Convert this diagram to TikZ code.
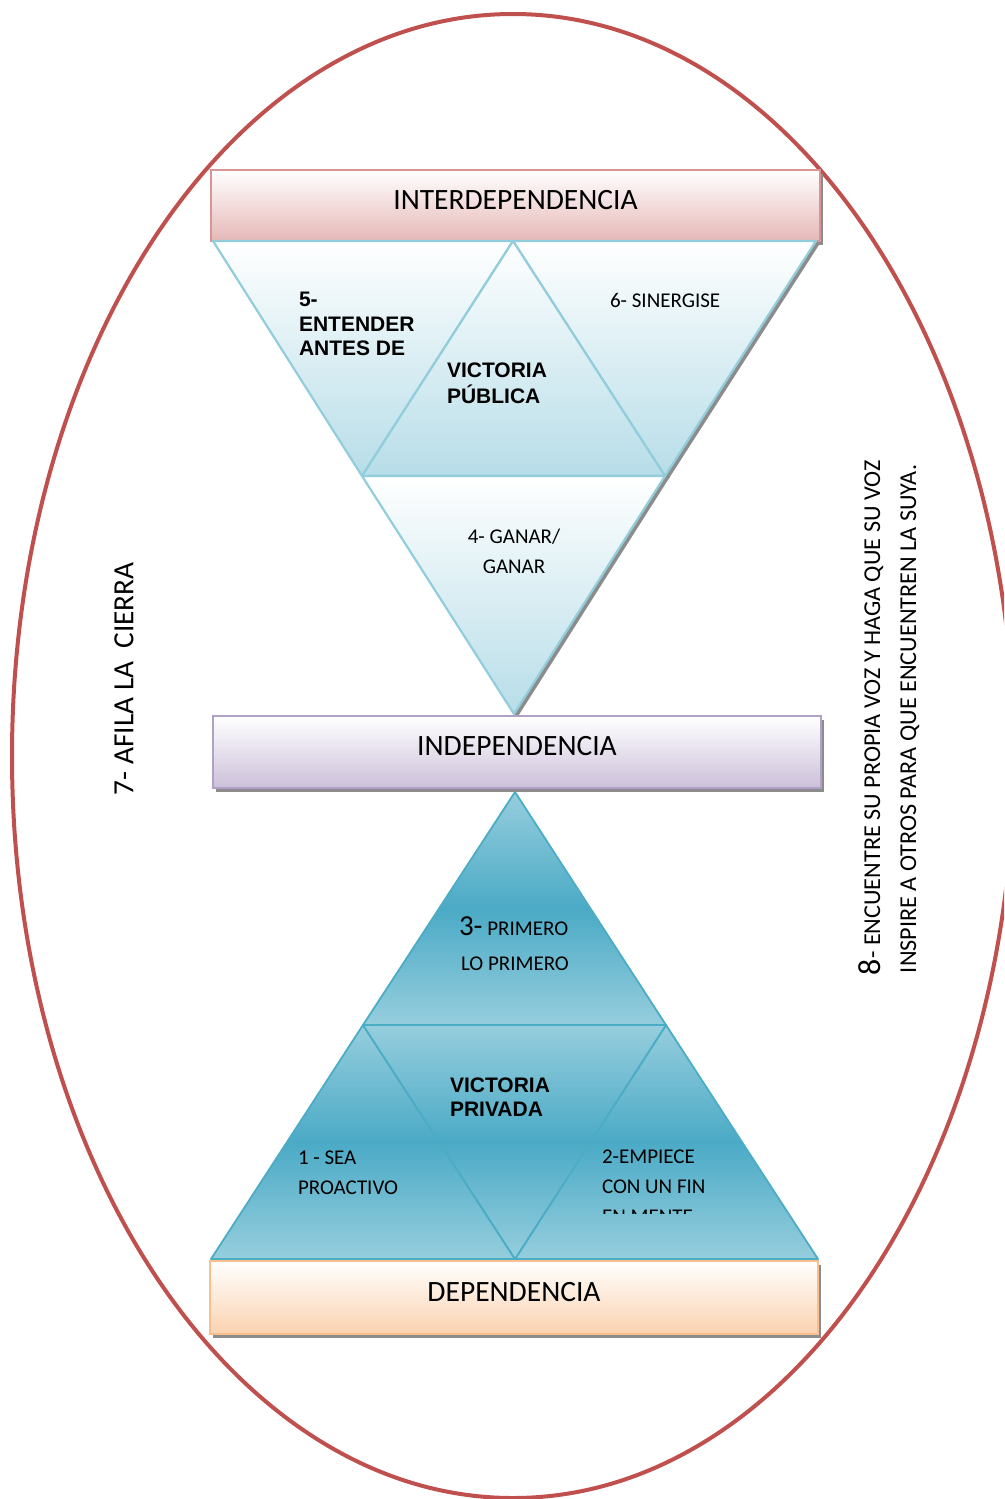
\documentclass[tikz,border=0pt]{standalone}
\usepackage{fontspec}
\setmainfont{Carlito}
\newfontfamily\arialf{Liberation Sans}
\usetikzlibrary{shadows}
\definecolor{ellred}{RGB}{192,80,77}
\definecolor{pinkB}{RGB}{217,149,148}
\definecolor{pinkF}{RGB}{229,184,183}
\definecolor{lavB}{RGB}{178,161,199}
\definecolor{lavF}{RGB}{204,192,218}
\definecolor{peachB}{RGB}{250,191,143}
\definecolor{peachF}{RGB}{251,210,176}
\definecolor{tbB}{RGB}{146,205,220}
\definecolor{tbF}{RGB}{183,221,232}
\definecolor{tealB}{RGB}{75,172,198}
\definecolor{tealM}{RGB}{75,170,198}
\definecolor{tealL}{RGB}{150,206,221}
\definecolor{shadc}{RGB}{140,140,140}
\begin{document}
\begin{tikzpicture}[x=1pt,y=-1pt,
  every node/.style={inner sep=0pt, outer sep=0pt},
  lbl/.style={font=\fontsize{21}{25}\selectfont, anchor=base west},
  blbl/.style={font=\arialf\bfseries\fontsize{21}{24}\selectfont, anchor=base west},
  box/.style={rectangle, line width=2pt, font=\fontsize{29.5}{31}\selectfont, text depth=12pt,
    drop shadow={shadow xshift=3pt, shadow yshift=-4pt, fill=black!45, opacity=1}},
  toptri/.style={draw=tbB, line width=2.2pt, line join=round, top color=white, bottom color=tbF},
  bottri/.style={draw=tealB, line width=1.8pt, line join=round, top color=tealL, bottom color=tealL, middle color=tealM},
  trishadow/.style={fill=shadc, draw=shadc, line width=2pt},
]
\useasboundingbox (0,0) rectangle (1004,1499);
\begin{scope}
\clip (0,0) rectangle (1004,1499);
\draw[ellred, line width=4pt] (513,756) ellipse [x radius=501pt, y radius=742pt];
\end{scope}

% top box
\node[box, minimum width=609pt, minimum height=71pt, draw=pinkB, top color=white, bottom color=pinkF]
  (inter) at (515.5,205.5) {INTERDEPENDENCIA};

% top inverted pyramid
\coordinate (A) at (213,241);
\coordinate (B) at (513,241);
\coordinate (C) at (816,241);
\coordinate (D) at (362,476);
\coordinate (E) at (665,476);
\coordinate (F) at (514,714);
\fill[trishadow] ([shift={(3,2)}]B) -- ([shift={(3,2)}]C) -- ([shift={(3,2)}]E) -- cycle;
\fill[trishadow] ([shift={(3,2)}]D) -- ([shift={(3,2)}]E) -- ([shift={(3,2)}]F) -- cycle;
\path[toptri] (A) -- (B) -- (D) -- cycle;
\path[toptri] (B) -- (C) -- (E) -- cycle;
\path[toptri] (D) -- (B) -- (E) -- cycle;
\path[toptri] (D) -- (E) -- (F) -- cycle;

% bottom pyramid
\coordinate (G) at (515,792);
\coordinate (H) at (363,1025);
\coordinate (I) at (666,1025);
\coordinate (J) at (211,1259);
\coordinate (K) at (515,1259);
\coordinate (L) at (818,1259);
\path[bottri] (G) -- (H) -- (I) -- cycle;
\path[bottri] (H) -- (J) -- (K) -- cycle;
\path[bottri] (I) -- (K) -- (L) -- cycle;
\path[bottri] (H) -- (I) -- (K) -- cycle;

% middle and bottom boxes
\node[box, minimum width=608pt, minimum height=72pt, draw=lavB, top color=white, bottom color=lavF]
  (indep) at (517,752) {INDEPENDENCIA};
\node[box, minimum width=608pt, minimum height=73pt, draw=peachB, top color=white, bottom color=peachF]
  (dep) at (514,1297.5) {DEPENDENCIA};

% top labels
\node[blbl] (t5a) at (299,306) {5-};
\node[blbl] (t5b) at (299,331) {ENTENDER};
\node[blbl] (t5c) at (299,355) {ANTES DE};
\node[blbl] (vpa) at (447,377) {VICTORIA};
\node[blbl] (vpb) at (447,403) {PÚBLICA};
\node[lbl] (t6) at (610,307) {6- SINERGISE};
\node[lbl, anchor=base] (t4a) at (514,543) {4- GANAR/};
\node[lbl, anchor=base] (t4b) at (514,573) {GANAR};

% bottom labels
\node[lbl] (t3a) at (459,935) {{\fontsize{29}{30}\selectfont 3-} PRIMERO};
\node[lbl] (t3b) at (461,970) {LO PRIMERO};
\node[blbl] (vva) at (450,1092) {VICTORIA};
\node[blbl] (vvb) at (450,1116) {PRIVADA};
\node[lbl] (t1a) at (298,1164) {1 - SEA};
\node[lbl] (t1b) at (298,1194) {PROACTIVO};
\node[lbl] (t2a) at (602,1163) {2-EMPIECE};
\node[lbl] (t2b) at (602,1193) {CON UN FIN};
\begin{scope}
\clip (590,1140) rectangle (730,1213);
\node[lbl] (t2c) at (602,1223) {EN MENTE};
\end{scope}

% side labels
\node[rotate=90, anchor=west, font=\fontsize{29.3}{31}\selectfont] (saw) at (124,795) {7- AFILA LA\ \ CIERRA};
\node[rotate=90, anchor=base west, font=\fontsize{24.2}{26}\selectfont] (v8a) at (880,975)
  {{\fontsize{32}{33}\selectfont 8}- ENCUENTRE SU PROPIA VOZ Y HAGA QUE SU VOZ};
\node[rotate=90, anchor=base west, font=\fontsize{24.2}{26}\selectfont] (v8b) at (916,973)
  {INSPIRE A OTROS PARA QUE ENCUENTREN LA SUYA.};
\end{tikzpicture}
\end{document}
